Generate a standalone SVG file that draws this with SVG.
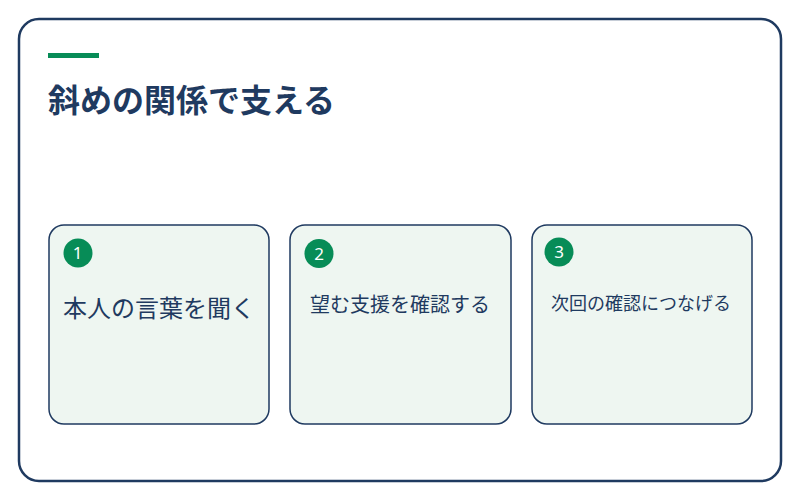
<svg xmlns="http://www.w3.org/2000/svg" width="800" height="500" viewBox="0 0 800 500">
  <style>
    .frame { fill: #ffffff; stroke: #1f3a60; stroke-width: 2.5; }
    .card { fill: #eef6f1; stroke: #1f3a60; stroke-width: 1.5; }
    .badge { fill: #078c57; }
    .num { fill: #ffffff; font-family: "Noto Sans", "Liberation Sans", sans-serif; font-size: 17px; text-anchor: middle; }
    .title { fill: #1f3a60; font-family: "Noto Sans CJK JP", sans-serif; font-size: 32px; font-weight: bold; }
    .label { fill: #1f3a60; font-family: "Noto Sans CJK JP", sans-serif; text-anchor: middle; }
  </style>
  <rect x="0" y="0" width="800" height="500" fill="#ffffff"/>
  <rect class="frame" x="19" y="19" width="762" height="462" rx="20"/>
  <rect x="48" y="53" width="51" height="5" fill="#078c57"/>
  <text class="title" x="48" y="112">斜めの関係で支える</text>
  <g id="connectors"></g>
  <g id="node1">
    <rect class="card" x="49" y="225" width="220" height="199" rx="15"/>
    <circle class="badge" cx="78" cy="253" r="14.5"/>
    <text class="num" x="77.5" y="259">1</text>
    <text class="label" x="159" y="317" font-size="24">本人の言葉を聞く</text>
  </g>
  <g id="node2">
    <rect class="card" x="290" y="225" width="221" height="199" rx="15"/>
    <circle class="badge" cx="319" cy="253.5" r="14.5"/>
    <text class="num" x="319" y="259.5">2</text>
    <text class="label" x="400" y="312" font-size="20">望む支援を確認する</text>
  </g>
  <g id="node3">
    <rect class="card" x="532" y="225" width="220" height="199" rx="15"/>
    <circle class="badge" cx="559" cy="252" r="14.5"/>
    <text class="num" x="559" y="258">3</text>
    <text class="label" x="641" y="310" font-size="18">次回の確認につなげる</text>
  </g>
</svg>
